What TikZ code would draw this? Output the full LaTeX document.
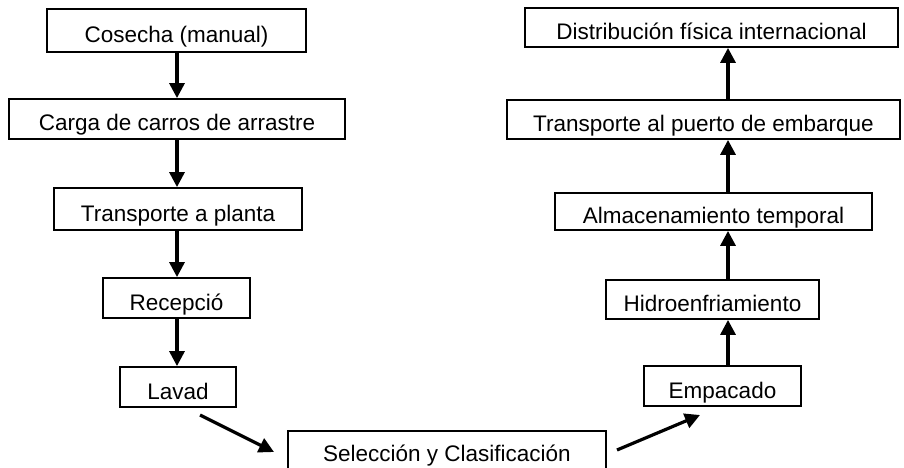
\documentclass[tikz,border=0pt]{standalone}
\usepackage{fontspec}
\setmainfont{Liberation Sans}
\usetikzlibrary{arrows.meta,calc}
\begin{document}
\begin{tikzpicture}[x=1pt,y=-1pt,
  box/.style={draw=black,line width=1.8pt,rectangle,inner sep=0pt,text height=24pt,text depth=0pt,font=\fontsize{22.5}{24}\selectfont,text=black},
  arr/.style={line width=3.2pt,-{Triangle[width=15pt,length=15pt]}}]
\clip (0,0) rectangle (904,468);
\fill[white] (0,0) rectangle (904,468);
% left column
\node[box,minimum width=259,minimum height=43] (cos) at (176.5,30.5) {Cosecha (manual)};
\node[box,minimum width=336,minimum height=40] (carga) at (177,119) {Carga de carros de arrastre};
\node[box,minimum width=248,minimum height=42] (tpl) at (178,209) {Transporte a planta};
\node[box,minimum width=147,minimum height=40] (rec) at (176.5,298) {Recepció};
\node[box,minimum width=116,minimum height=40] (lav) at (178,387) {Lavad};
% bottom
\node[box,text height=10pt,minimum width=318,minimum height=50] (sel) at (447,456) {Selección y Clasificación};
% right column
\node[box,minimum width=157,minimum height=40] (emp) at (722.5,386) {Empacado};
\node[box,minimum width=213,minimum height=39] (hid) at (712.5,299.5) {Hidroenfriamiento};
\node[box,minimum width=317,minimum height=37] (alm) at (713.5,211.5) {Almacenamiento temporal};
\node[box,minimum width=393,minimum height=39] (tpu) at (703.5,119.5) {Transporte al puerto de embarque};
\node[box,minimum width=373,minimum height=39] (dis) at (711.5,27.5) {Distribución física internacional};
\coordinate (xl) at (177,0);
\coordinate (xr) at (728,0);
% left arrows
\draw[arr] (cos.south -| xl) -- (carga.north -| xl);
\draw[arr] (carga.south -| xl) -- (tpl.north -| xl);
\draw[arr] (tpl.south -| xl) -- (rec.north -| xl);
\draw[arr] (rec.south -| xl) -- (lav.north -| xl);
% diagonal arrows
\coordinate (d1a) at (200,415);
\coordinate (d1b) at (274,452);
\coordinate (d2a) at (617,450);
\coordinate (d2b) at (700,415);
\draw[arr] (d1a) -- (d1b);
\draw[arr] (d2a) -- (d2b);
% right arrows
\draw[arr] (emp.north -| xr) -- (hid.south -| xr);
\draw[arr] (hid.north -| xr) -- (alm.south -| xr);
\draw[arr] (alm.north -| xr) -- (tpu.south -| xr);
\draw[arr] (tpu.north -| xr) -- (dis.south -| xr);
\end{tikzpicture}
\end{document}
